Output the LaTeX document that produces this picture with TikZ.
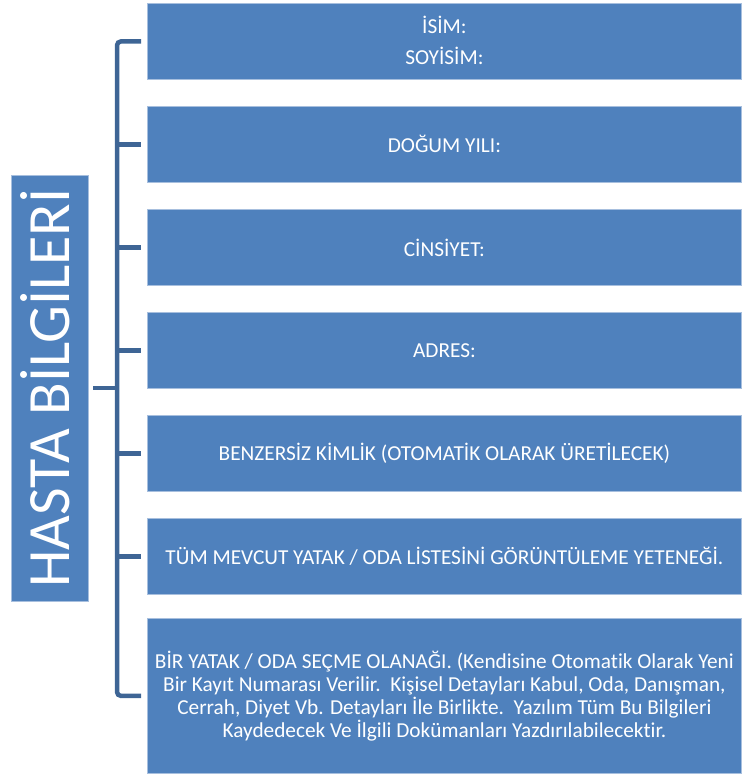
\documentclass[tikz,border=0pt]{standalone}
\usepackage{fontspec}
\setmainfont{Carlito}[Ligatures=NoCommon]
\definecolor{boxfill}{RGB}{79,129,189}
\definecolor{boxedge}{RGB}{167,191,222}
\definecolor{bracketcol}{RGB}{62,101,149}
\tikzset{
  infobox/.style={draw=boxedge, line width=0.8pt, fill=boxfill, text=white,
    minimum width=594pt, inner sep=0pt, anchor=north west, align=center,
    font=\fontsize{21.3}{23}\selectfont},
  titlebox/.style={draw=boxedge, line width=0.8pt, fill=boxfill, text=white,
    minimum width=426pt, minimum height=77pt, inner sep=0pt, rotate=90,
    text height=40pt, text depth=0pt,
    font=\fontsize{60}{60}\selectfont},
  brk/.style={draw=bracketcol, line width=4.5pt}
}
\begin{document}
\begin{tikzpicture}[x=1pt,y=1pt]
  \useasboundingbox (0,0) rectangle (742,-775);

  % left title, rotated
  \node[titlebox] (title) at (49.5,-388) {HASTA BİLGİLERİ};

  % stacked information boxes
  \node[infobox, minimum height=76pt] (b1) at (147,-3)
    {\raisebox{3pt}{İSİM:}\\[8pt]\raisebox{3pt}{SOYİSİM:}};
  \node[infobox, minimum height=76pt] (b2) at (147,-106) {DOĞUM YILI:};
  \node[infobox, minimum height=76pt] (b3) at (147,-209) {CİNSİYET:};
  \node[infobox, minimum height=76pt] (b4) at (147,-312) {ADRES:};
  \node[infobox, minimum height=76pt] (b5) at (147,-415)
    {BENZERSİZ KİMLİK (OTOMATİK OLARAK ÜRETİLECEK)};
  \node[infobox, minimum height=76pt] (b6) at (147,-518)
    {TÜM MEVCUT YATAK / ODA LİSTESİNİ GÖRÜNTÜLEME YETENEĞİ.};
  \node[infobox, minimum height=155pt] (b7) at (147,-618)
    {BİR YATAK / ODA SEÇME OLANAĞI. (Kendisine Otomatik Olarak Yeni\\
     Bir Kayıt Numarası Verilir.\ \ Kişisel Detayları Kabul, Oda, Danışman,\\
     Cerrah, Diyet Vb. Detayları İle Birlikte.\ \ Yazılım Tüm Bu Bilgileri\\
     Kaydedecek\ Ve İlgili Dokümanları Yazdırılabilecektir.};

  % bracket joining the title to the boxes
  \coordinate (spine) at (117,0);
  \draw[brk, rounded corners=4pt, shorten <=6pt, shorten >=6pt]
    (b1.west) -| (spine |- b7.west) -- (b7.west);
  \foreach \b in {b2,b3,b4,b5,b6}
    \draw[brk, shorten >=6pt] (spine |- \b.west) -- (\b.west);
  \draw[brk, shorten <=5pt] (title.south) -- (spine |- title.south);
\end{tikzpicture}
\end{document}
